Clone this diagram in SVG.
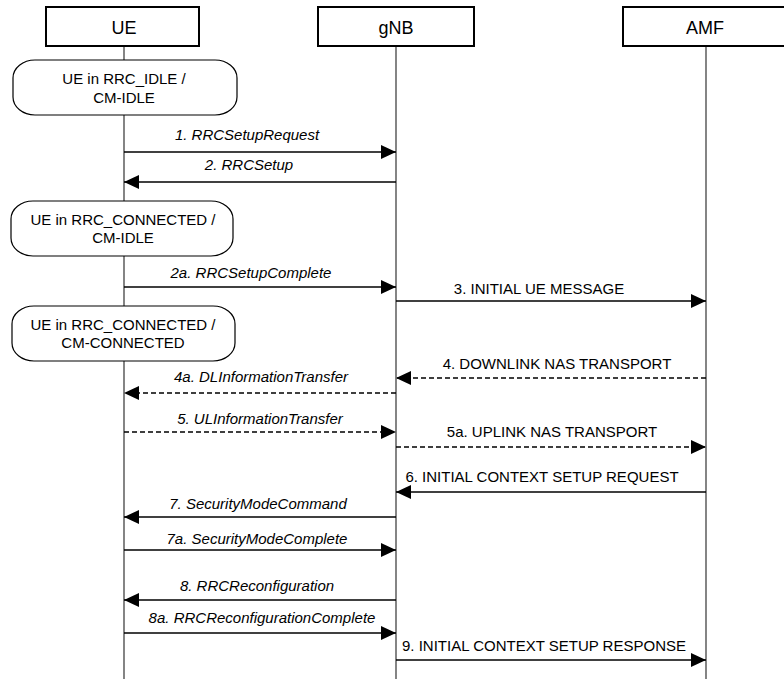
<svg xmlns="http://www.w3.org/2000/svg" width="784" height="679" viewBox="0 0 784 679">
<style>
.hdr{fill:#fff;stroke:#000;stroke-width:2}
.hdrt{font-family:"Liberation Sans",Arial,sans-serif;font-size:18px;fill:#000;text-anchor:middle}
.life{stroke:#333;stroke-width:1.2;fill:none}
.state{fill:#fff;stroke:#000;stroke-width:1.2}
.st{font-family:"Liberation Sans",Arial,sans-serif;font-size:15px;fill:#000;text-anchor:middle}
.msg{stroke:#000;stroke-width:1.3;fill:none;marker-end:url(#ah)}
.dash{stroke-dasharray:5,3}
.lbl{font-family:"Liberation Sans",Arial,sans-serif;font-size:15px;fill:#000;text-anchor:middle}
.it{font-style:italic}
</style>
<defs>
<marker id="ah" markerUnits="userSpaceOnUse" markerWidth="15" markerHeight="14" refX="15" refY="7" orient="auto">
<path d="M0,0 L15,7 L0,14 z" fill="#000"/>
</marker>
</defs>
<rect width="784" height="679" fill="#fff"/>
<g id="lifelines">
<line class="life" x1="124" y1="46" x2="124" y2="679"/>
<line class="life" x1="396" y1="46" x2="396" y2="679"/>
<line class="life" x1="706" y1="46" x2="706" y2="679"/>
</g>
<g id="UE">
<rect class="hdr" x="46" y="7" width="153" height="39"/>
<text class="hdrt" x="124" y="34">UE</text>
</g>
<g id="gNB">
<rect class="hdr" x="318" y="7" width="156" height="39"/>
<text class="hdrt" x="396" y="34">gNB</text>
</g>
<g id="AMF">
<rect class="hdr" x="623" y="7" width="166" height="39"/>
<text class="hdrt" x="705" y="34">AMF</text>
</g>
<g id="state1">
<rect class="state" x="13" y="60" width="224" height="55" rx="22" ry="18"/>
<text class="st" x="124" y="84">UE in RRC_IDLE /</text>
<text class="st" x="124" y="103">CM-IDLE</text>
</g>
<g id="state2">
<rect class="state" x="11" y="201" width="222" height="55" rx="22" ry="18"/>
<text class="st" x="123" y="225">UE in RRC_CONNECTED /</text>
<text class="st" x="123" y="243">CM-IDLE</text>
</g>
<g id="state3">
<rect class="state" x="12" y="306" width="223" height="55" rx="22" ry="18"/>
<text class="st" x="123" y="330">UE in RRC_CONNECTED /</text>
<text class="st" x="123" y="348">CM-CONNECTED</text>
</g>
<g id="connectors">
<line class="msg" x1="124" y1="152" x2="396" y2="152"/>
<text class="lbl it" x="247" y="140">1. RRCSetupRequest</text>
<line class="msg" x1="396" y1="182" x2="124" y2="182"/>
<text class="lbl it" x="249" y="170">2. RRCSetup</text>
<line class="msg" x1="124" y1="287" x2="396" y2="287"/>
<text class="lbl it" x="251" y="278">2a. RRCSetupComplete</text>
<line class="msg" x1="396" y1="301" x2="706" y2="301"/>
<text class="lbl" x="539" y="294">3. INITIAL UE MESSAGE</text>
<line class="msg dash" x1="706" y1="378" x2="396" y2="378"/>
<text class="lbl" x="557" y="369">4. DOWNLINK NAS TRANSPORT</text>
<line class="msg dash" x1="396" y1="393" x2="124" y2="393"/>
<text class="lbl it" x="261" y="382">4a. DLInformationTransfer</text>
<line class="msg dash" x1="124" y1="432" x2="396" y2="432"/>
<text class="lbl it" x="260" y="424">5. ULInformationTransfer</text>
<line class="msg dash" x1="396" y1="447" x2="706" y2="447"/>
<text class="lbl" x="552" y="437">5a. UPLINK NAS TRANSPORT</text>
<line class="msg" x1="706" y1="492" x2="396" y2="492"/>
<text class="lbl" x="542" y="482">6. INITIAL CONTEXT SETUP REQUEST</text>
<line class="msg" x1="396" y1="517" x2="124" y2="517"/>
<text class="lbl it" x="258" y="509">7. SecurityModeCommand</text>
<line class="msg" x1="124" y1="550" x2="396" y2="550"/>
<text class="lbl it" x="257" y="544">7a. SecurityModeComplete</text>
<line class="msg" x1="396" y1="600" x2="124" y2="600"/>
<text class="lbl it" x="257" y="591">8. RRCReconfiguration</text>
<line class="msg" x1="124" y1="633" x2="396" y2="633"/>
<text class="lbl it" x="262" y="623">8a. RRCReconfigurationComplete</text>
<line class="msg" x1="396" y1="660" x2="706" y2="660"/>
<text class="lbl" x="544" y="651">9. INITIAL CONTEXT SETUP RESPONSE</text>
</g>
</svg>
